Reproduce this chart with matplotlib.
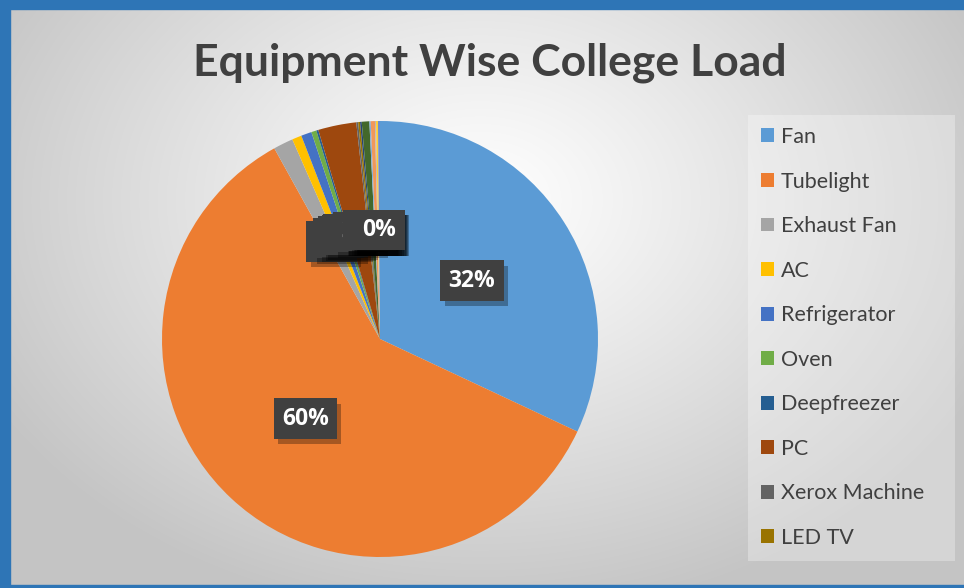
import numpy as np
import matplotlib
matplotlib.use("Agg")
import matplotlib.pyplot as plt
import matplotlib.patheffects as pe
from matplotlib.patches import Rectangle

# legend categories (shown) and their share of the load in %
categories = ["Fan", "Tubelight", "Exhaust Fan", "AC", "Refrigerator",
              "Oven", "Deepfreezer", "PC", "Xerox Machine", "LED TV"]
shares = [32.0, 60.0, 1.47, 0.71, 0.78, 0.38, 0.15, 2.83, 0.14, 0.14]
# further thin slices drawn in the pie but not listed in the legend
extra_shares = [0.12, 0.56, 0.10, 0.31, 0.08, 0.14, 0.15]

colors = ["#5B9BD5", "#ED7D31", "#A5A5A5", "#FFC000", "#4472C4", "#70AD47",
          "#255E91", "#9E480E", "#636363", "#997300",
          "#264478", "#43682B", "#7CAFDD", "#F1975A", "#B7B7B7", "#FFCD33",
          "#698ED0"]

W, H = 964, 588
fig = plt.figure(figsize=(W / 100, H / 100), dpi=100)

# background: radial grey gradient + blue frame
bg = fig.add_axes([0, 0, 1, 1])
bg.set_xlim(0, W)
bg.set_ylim(H, 0)
bg.axis("off")
yy, xx = np.mgrid[0:H, 0:W]
r = np.hypot((xx - 480) / 560.0, (yy - 200) / 420.0)
r = np.clip(r, 0, 1)
shade = 1.0 - 0.23 * r ** 1.1
bg.imshow(np.dstack([shade, shade, shade]), extent=(0, W, H, 0), aspect="auto", zorder=0)
blue = "#2E75B6"
bg.add_patch(Rectangle((0, 0), W, 9, color=blue, zorder=2))
bg.add_patch(Rectangle((0, 0), 10, H, color=blue, zorder=2))
bg.add_patch(Rectangle((0, 585), W, 3, color=blue, zorder=2))
# legend panel
bg.add_patch(Rectangle((748, 115), 207, 446, facecolor="white", alpha=0.3,
                       edgecolor="none", zorder=1))

fig.text(490, H - 63, "Equipment Wise College Load", transform=None,
         ha="center", va="center", fontsize=32, fontweight="bold",
         family="Lato", color="#404040")

# pie axes: centre (380, 339) px, radius 218 px
cx, cy, rad = 380, 339, 218
ax = fig.add_axes([(cx - rad) / W, (H - cy - rad) / H, 2 * rad / W, 2 * rad / H])
values = shares + extra_shares
wedges, texts, autotexts = ax.pie(values, colors=colors, startangle=90,
                                  counterclock=False, autopct="%.0f%%",
                                  pctdistance=0.5,
                                  wedgeprops=dict(linewidth=0))
ax.set_xlim(-1, 1)
ax.set_ylim(-1, 1)
ax.set_aspect("equal")

for t in autotexts:
    t.set_color("white")
    t.set_fontweight("bold")
    t.set_family("Open Sans")
    t.set_fontsize(16.5)
    t.set_bbox(dict(boxstyle="square,pad=0.36", facecolor="#404040",
                    edgecolor="none", linewidth=0))
    t.get_bbox_patch().set_path_effects([
        pe.SimplePatchShadow(offset=(3, -4), alpha=0.3, shadow_rgbFace="black"),
        pe.Normal()])

fig.legend(wedges[:len(categories)], categories, loc="upper left",
           bbox_to_anchor=(761 / W, 1 - 127 / H), frameon=False,
           prop=dict(family="Lato", size=15.5), labelcolor="#404040",
           handlelength=0.62, handleheight=0.62, handletextpad=0.3,
           labelspacing=1.14, borderpad=0, borderaxespad=0)

fig.savefig("out.png", dpi=100)
